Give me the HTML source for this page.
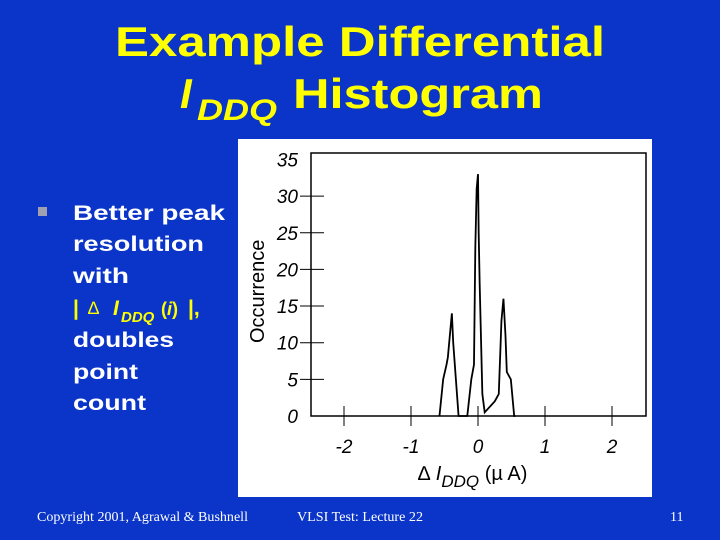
<!DOCTYPE html>
<html><head><meta charset="utf-8"><style>html,body{margin:0;padding:0;background:#0b35c8;}svg{display:block}</style></head>
<body>
<svg width="720" height="540" xmlns="http://www.w3.org/2000/svg">
<rect width="720" height="540" fill="#0b35c8"/>
<g font-family="Liberation Sans, Arial, sans-serif" font-weight="bold" fill="#ffff00">
<text x="115" y="56" font-size="42" textLength="490" lengthAdjust="spacingAndGlyphs">Example Differential</text>
<text x="180" y="108" font-size="42" font-style="italic">I</text>
<text x="197" y="120" font-size="30" font-style="italic" textLength="80" lengthAdjust="spacingAndGlyphs">DDQ</text>
<text x="293" y="108" font-size="42" textLength="250" lengthAdjust="spacingAndGlyphs">Histogram</text>
</g>
<rect x="38" y="207" width="9" height="9" fill="#a0a0b0"/>
<g font-family="Liberation Sans, Arial, sans-serif" font-weight="bold" font-size="21" fill="#ffffff">
<text x="73" y="220" textLength="152" lengthAdjust="spacingAndGlyphs">Better peak</text>
<text x="73" y="251" textLength="131" lengthAdjust="spacingAndGlyphs">resolution</text>
<text x="73" y="283" textLength="56" lengthAdjust="spacingAndGlyphs">with</text>
<text x="73" y="315" fill="#ffff00">|</text>
<text x="88" y="314" font-weight="normal" font-size="18" fill="#ffff00">∆</text>
<text x="113" y="315" font-style="italic" fill="#ffff00">I</text>
<text x="121" y="322" font-style="italic" font-size="15" fill="#ffff00">DDQ</text>
<text x="161" y="315" font-size="18" fill="#ffff00">(<tspan font-style="italic">i</tspan>)</text>
<text x="188" y="315" fill="#ffff00">|,</text>
<text x="73" y="347" textLength="101" lengthAdjust="spacingAndGlyphs">doubles</text>
<text x="73" y="379" textLength="65" lengthAdjust="spacingAndGlyphs">point</text>
<text x="73" y="410" textLength="73" lengthAdjust="spacingAndGlyphs">count</text>
</g>
<rect x="238" y="139" width="414" height="358" fill="#ffffff"/>
<g id="chart"></g>
<g font-family="Liberation Serif, Times New Roman, serif" font-size="14" fill="#ffffff">
<text x="37" y="521" textLength="211" lengthAdjust="spacingAndGlyphs">Copyright 2001, Agrawal &amp; Bushnell</text>
<text x="297" y="521" textLength="126" lengthAdjust="spacingAndGlyphs">VLSI Test: Lecture 22</text>
<text x="670" y="521">11</text>
</g>
</svg>
<script>
const xVals=[-0.575,-0.52,-0.47,-0.45,-0.39,-0.37,-0.29,-0.24,-0.16,-0.1,-0.06,-0.04,-0.02,0,0.01,0.025,0.065,0.1,0.15,0.25,0.31,0.35,0.38,0.41,0.43,0.49,0.54,0.56];
const yVals=[0,5,7,8,14,10,0,0,0,5,7,23,31,33,25,18,3,0.5,1,2,3,13,16,11,6,5,0,0];
const yTicks=[0,5,10,15,20,25,30,35];
const xTicks=[-2,-1,0,1,2];
const NS='http://www.w3.org/2000/svg';
const g=document.getElementById('chart');
const X0=311,X1=646,Y0=416,Y1=153;
const sx=v=>478+v*67;
const sy=v=>Y0-v*7.33;
function mk(t,a){const e=document.createElementNS(NS,t);for(const k in a)e.setAttribute(k,a[k]);g.appendChild(e);return e;}
const box=mk('rect',{x:X0,y:Y1,width:X1-X0,height:Y0-Y1,fill:'none',stroke:'#000','stroke-width':1.5});


yTicks.forEach(v=>{
 if(v>0&&v<35){const l=mk('line',{x1:300,x2:324,y1:sy(v),y2:sy(v),stroke:'#000','stroke-width':1});
 
 }
 const t=mk('text',{x:298,y:sy(v)+7,'text-anchor':'end','font-family':'Liberation Sans, Arial, sans-serif','font-style':'italic','font-size':19,fill:'#000'});
 t.textContent=v;
 
 
});
xTicks.forEach(v=>{
 const l=mk('line',{x1:sx(v),x2:sx(v),y1:406,y2:426,stroke:'#000','stroke-width':1});
 
 
 const t=mk('text',{x:sx(v),y:453,'text-anchor':'middle','font-family':'Liberation Sans, Arial, sans-serif','font-style':'italic','font-size':19,fill:'#000'});
 t.textContent=v;
 
 
});
const yt=mk('text',{x:0,y:0,transform:'translate(264,343) rotate(-90)','font-family':'Liberation Sans, Arial, sans-serif','font-size':20,fill:'#000'});
yt.textContent='Occurrence';


const xt=mk('text',{x:418,y:480,'font-family':'Liberation Sans, Arial, sans-serif','font-size':20,fill:'#000','font-style':'italic'});
xt.innerHTML='<tspan font-style="normal">∆</tspan> I<tspan font-size="17" dy="7">DDQ</tspan><tspan dy="-7" font-style="normal"> (µ A)</tspan>';


const pts=xVals.map((x,i)=>sx(x)+','+sy(yVals[i])).join(' ');
const pl=mk('polyline',{points:pts,fill:'none',stroke:'#000','stroke-width':1.8,'stroke-linejoin':'miter'});


</script>
</body></html>
